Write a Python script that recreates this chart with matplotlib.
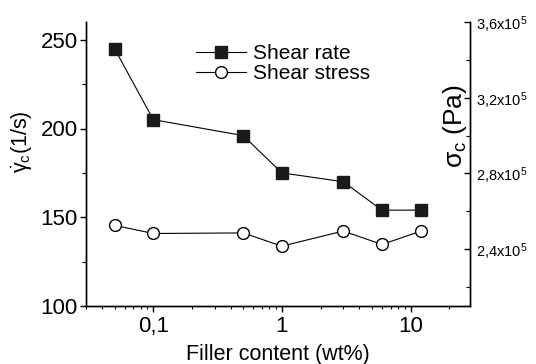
import matplotlib
matplotlib.use("Agg")
import matplotlib.pyplot as plt
from matplotlib.ticker import FixedLocator, LogLocator, NullFormatter

plt.rcParams['font.family'] = ['Liberation Sans', 'DejaVu Sans']
plt.rcParams['mathtext.fontset'] = 'custom'
plt.rcParams['mathtext.rm'] = 'Liberation Sans'
plt.rcParams['mathtext.it'] = 'Liberation Sans'

filler = [0.05, 0.1, 0.5, 1, 3, 6, 12]
shear_rate = [245, 205, 196, 175, 170, 154, 154]
shear_stress = [2.526e5, 2.483e5, 2.486e5, 2.416e5, 2.496e5, 2.425e5, 2.495e5]

left_ticks = [100, 150, 200, 250]
right_ticks = [2.4e5, 2.8e5, 3.2e5, 3.6e5]
right_labels = [r'2,4x10$^5$', r'2,8x10$^5$', r'3,2x10$^5$', r'3,6x10$^5$']
x_ticks = [0.1, 1, 10]
x_labels = ['0,1', '1', '10']

fig = plt.figure(figsize=(5.36, 3.64), dpi=100)
ax = fig.add_axes([86/536, 1-306/364, (470-86)/536, (306-22)/364])
ax2 = ax.twinx()

l1, = ax.plot(filler, shear_rate, '-s', color='black', lw=0.8, ms=8,
              mfc='#1a1a1a', mec='#1a1a1a', label='Shear rate')
l2, = ax2.plot(filler, shear_stress, '-o', color='black', lw=0.8, ms=8.5,
               mfc='white', mec='black', mew=1.0, label='Shear stress')

ax.set_xscale('log')
ax.set_xlim(0.03, 29)
ax.set_ylim(100, 260)
ax2.set_ylim(2.1e5, 3.6e5)

for a in (ax, ax2):
    a.spines['top'].set_visible(False)
    for s in a.spines.values():
        s.set_linewidth(1.0)

ax.set_xticks(x_ticks)
ax.set_xticklabels(x_labels)
ax.xaxis.set_minor_locator(LogLocator(base=10, subs=range(2, 10)))
ax.xaxis.set_minor_formatter(NullFormatter())
ax.set_yticks(left_ticks)
ax.yaxis.set_minor_locator(FixedLocator([125, 175, 225]))
ax.tick_params(axis='x', which='major', direction='out', length=4, width=1, labelsize=16, pad=3)
ax.tick_params(axis='x', which='minor', direction='out', length=2.5, width=0.8)
ax.tick_params(axis='y', which='major', direction='out', length=4, width=1, labelsize=16, pad=2)
ax.tick_params(axis='y', which='minor', direction='out', length=3, width=0.8)

ax2.set_yticks(right_ticks)
ax2.set_yticklabels(right_labels)
ax2.yaxis.set_minor_locator(FixedLocator([2.2e5, 2.6e5, 3.0e5, 3.4e5]))
ax2.tick_params(axis='y', which='major', direction='in', length=4, width=1, labelsize=10.5, pad=4)
ax2.tick_params(axis='y', which='minor', direction='in', length=3, width=0.8)

ax.set_xlabel('Filler content (wt%)', fontsize=15.5, labelpad=5)
fig.text(22/536, 1-142/364, r'$\dot{\gamma}_\mathrm{c}$(1/s)', rotation=90,
         ha='center', va='center', fontsize=15.5)
fig.text(455/536, 1-126/364, r'$\sigma_\mathrm{c}$ (Pa)', rotation=90,
         ha='center', va='center', fontsize=19)

leg = ax.legend([l1, l2], ['Shear rate', 'Shear stress'], loc='upper left',
                bbox_to_anchor=(196/536, 1-44/364), bbox_transform=fig.transFigure,
                frameon=False, fontsize=15, handlelength=2.4, handletextpad=0.35,
                labelspacing=0.05, borderpad=0, borderaxespad=0)

fig.savefig('out.png', dpi=100)
